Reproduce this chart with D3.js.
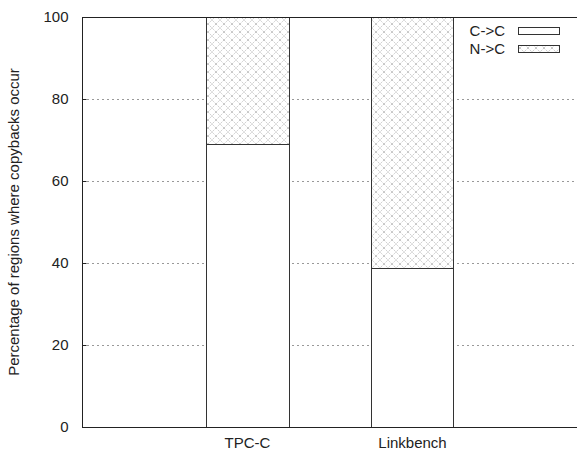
<!DOCTYPE html>
<html><head><meta charset="utf-8">
<script src="https://cdn.jsdelivr.net/npm/d3@7"></script>
<style>body{margin:0;background:#fff}svg{display:block}text{font-family:"Liberation Sans",Arial,sans-serif}</style>
</head><body>
<script>
const categories = ["TPC-C", "Linkbench"];
const seriesNames = ["C->C", "N->C"];
const ccValues = [69.0, 38.8];
const ncValues = [31.0, 61.2];
const yTicks = [0, 20, 40, 60, 80, 100];

const W = 577, H = 452;
const m = {left: 82, right: 0, top: 17, bottom: 25};
const FS = 15;
const svg = d3.select("body").append("svg").attr("width", W).attr("height", H);

const defs = svg.append("defs");
const pat = defs.append("pattern").attr("id", "hatch").attr("patternUnits", "userSpaceOnUse")
  .attr("width", 8).attr("height", 8);
pat.append("rect").attr("width", 8).attr("height", 8).attr("fill", "#fff");
pat.append("path").attr("d", "M0,0 L8,8 M8,0 L0,8 M-1,7 L1,9 M7,-1 L9,1")
  .attr("stroke", "#c8c8c8").attr("stroke-width", 1).attr("stroke-dasharray", "1.5,1");

const x = d3.scaleLinear().domain([0, 3]).range([m.left, W - m.right]);
const y = d3.scaleLinear().domain([0, 100]).range([H - m.bottom, m.top]);
const barW = 0.5;

// grid
svg.append("g").selectAll("line").data(yTicks.filter(t => t > 0 && t < 100)).join("line")
  .attr("x1", m.left).attr("x2", W - m.right)
  .attr("y1", d => y(d) + 0.5).attr("y2", d => y(d) + 0.5)
  .attr("stroke", "#999").attr("stroke-dasharray", "2,3");

// bars
const data = categories.map((c, i) => ({c, i, cc: ccValues[i], nc: ncValues[i]}));
const g = svg.append("g");
data.forEach(d => {
  const x0 = x(d.i + 1 - barW / 2), x1 = x(d.i + 1 + barW / 2);
  g.append("rect").attr("x", Math.round(x0) + 0.5).attr("width", Math.round(x1 - x0))
    .attr("y", Math.round(y(d.cc)) + 0.5).attr("height", Math.round(y(0) - y(d.cc)))
    .attr("fill", "#fff").attr("stroke", "#333");
  g.append("rect").attr("x", Math.round(x0) + 0.5).attr("width", Math.round(x1 - x0))
    .attr("y", Math.round(y(d.cc + d.nc)) + 0.5).attr("height", Math.round(y(d.cc) - y(d.cc + d.nc)))
    .attr("fill", "url(#hatch)").attr("stroke", "#333");
});

// axes
const yAxis = d3.axisLeft(y).tickValues(yTicks).tickSize(-4).tickPadding(14);
const ya = svg.append("g").attr("transform", `translate(${m.left + 0.5},0)`).call(yAxis);
ya.select(".domain").remove();
ya.selectAll("text").attr("font-size", FS).attr("fill", "#222");
ya.selectAll("line").attr("stroke", "#222");

const xAxis = d3.axisBottom(x).tickValues([1, 2]).tickFormat(d => categories[d - 1]).tickSize(0).tickPadding(10);
const xa = svg.append("g").attr("transform", `translate(0,${H - m.bottom})`).call(xAxis);
xa.select(".domain").remove();
xa.selectAll("text").attr("font-size", FS).attr("fill", "#222");

// frame
svg.append("rect").attr("x", m.left + 0.5).attr("y", m.top + 0.5)
  .attr("width", W - m.right - m.left).attr("height", H - m.bottom - m.top)
  .attr("fill", "none").attr("stroke", "#222");

// y label
svg.append("text").attr("transform", `translate(19,${(m.top + H - m.bottom) / 2}) rotate(-90)`)
  .attr("text-anchor", "middle").attr("font-size", FS).attr("fill", "#222")
  .text("Percentage of regions where copybacks occur");

// legend
const leg = svg.append("g");
seriesNames.forEach((s, i) => {
  const ly = 31 + i * 18;
  leg.append("text").attr("x", 505).attr("y", ly + 5).attr("text-anchor", "end")
    .attr("font-size", FS).attr("fill", "#222").text(s);
  leg.append("rect").attr("x", 518.5).attr("y", ly - 3.5).attr("width", 41).attr("height", 7)
    .attr("fill", i === 0 ? "#fff" : "url(#hatch)").attr("stroke", "#333");
});
</script>
</body></html>
